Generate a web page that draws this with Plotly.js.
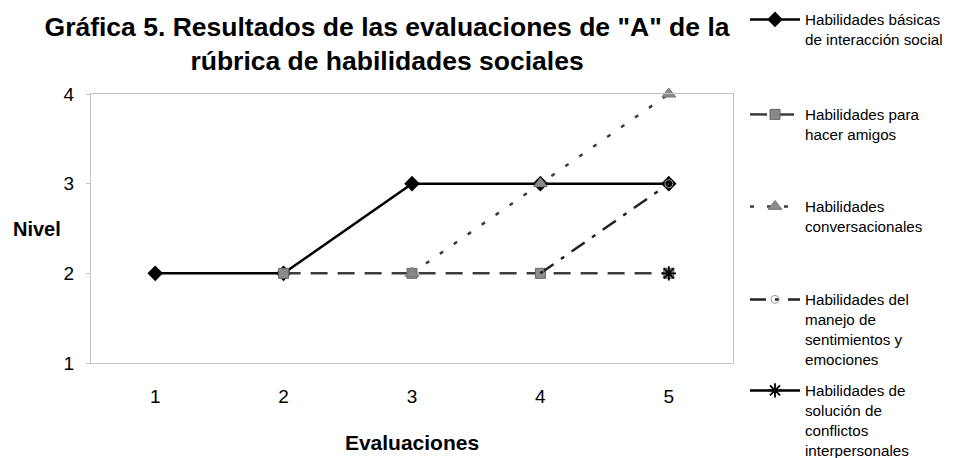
<!DOCTYPE html>
<html>
<head>
<meta charset="utf-8">
<script src="https://cdn.plot.ly/plotly-3.0.1.min.js"></script>
<style>html,body{margin:0;padding:0;background:#fff;}#chart{width:954px;height:458px;}</style>
</head>
<body>
<div id="chart"></div>
<script>
// Data
var evaluaciones = [1, 2, 3, 4, 5];
var basicas = [2, 2, 3, 3, 3];
var hacerAmigos = [null, 2, 2, 2, 2];
var conversacionales = [null, null, 2, 3, 4];
var sentimientos = [null, null, null, 2, 3];
var conflictos = [null, null, null, null, 2];
var seriesNames = [
  'Habilidades básicas<br>de interacción social',
  'Habilidades para<br>hacer amigos',
  'Habilidades<br>conversacionales',
  'Habilidades del<br>manejo de<br>sentimientos y<br>emociones',
  'Habilidades de<br>solución de<br>conflictos<br>interpersonales'
];
var yTicks = [1, 2, 3, 4];

var W = 954, H = 458;
var legendTops = [3, 98, 190, 283, 374];

var traces = [
  {x: evaluaciones, y: basicas, name: seriesNames[0], mode: 'lines+markers',
   line: {color: '#000', width: 2.5},
   marker: {symbol: 'diamond', size: 12, color: '#000'}},
  {x: evaluaciones, y: hacerAmigos, name: seriesNames[1], mode: 'lines+markers',
   line: {color: '#3c3c3c', width: 2.5, dash: '17px,10px'},
   marker: {symbol: 'square', size: 10, color: '#8a8a8a', line: {color: '#666', width: 1}}},
  {x: evaluaciones, y: conversacionales, name: seriesNames[2], mode: 'lines+markers',
   line: {color: '#3c3c3c', width: 2.5, dash: '4px,13px'},
   marker: {symbol: 'triangle-up', size: 12, color: '#8a8a8a', line: {color: '#777', width: 1}}},
  {x: evaluaciones, y: sentimientos, name: seriesNames[3], mode: 'lines+markers',
   line: {color: '#222', width: 2.5, dash: '16px,9px,4px,9px'},
   marker: {symbol: 'circle-open', size: 8, color: '#999', line: {width: 1}}},
  {x: evaluaciones, y: conflictos, name: seriesNames[4], mode: 'lines+markers',
   line: {color: '#000', width: 2.5},
   marker: {symbol: 'asterisk-open', size: 12, color: '#000', line: {width: 1.8, color: '#000'}}}
];
traces.forEach(function(t, i){
  t.legend = i === 0 ? 'legend' : 'legend' + (i + 1);
  t.cliponaxis = false;
});

function mkLegend(i){
  return {x: 745 / W, xref: 'container', y: 1 - legendTops[i] / H, yref: 'container',
          xanchor: 'left', yanchor: 'top', valign: 'top',
          font: {family: 'Arial, Liberation Sans, sans-serif', size: 15.2, color: '#000'},
          bgcolor: 'rgba(0,0,0,0)', borderwidth: 0, itemwidth: 50};
}

var layout = {
  width: W, height: H,
  margin: {l: 91, r: 221, t: 94, b: 95, pad: 0},
  paper_bgcolor: '#fff', plot_bgcolor: '#fff',
  font: {family: 'Arial, Liberation Sans, sans-serif', color: '#000'},
  title: {text: 'Gráfica 5. Resultados de las evaluaciones de "A" de la<br>rúbrica de habilidades sociales',
          font: {size: 26.5, color: '#000', weight: 'bold'},
          x: 387 / W, xref: 'container', xanchor: 'center',
          y: 1 - 36 / H, yref: 'container', yanchor: 'top'},
  xaxis: {range: [0.5, 5.5], tickvals: evaluaciones, ticktext: evaluaciones.map(String),
          showgrid: false, zeroline: false, showline: true, mirror: true,
          linecolor: '#c4c4c4', linewidth: 1, ticks: '', ticklabelstandoff: 16,
          tickfont: {size: 19, color: '#000'},
          title: {text: 'Evaluaciones', font: {size: 21, weight: 'bold', color: '#000'}, standoff: 29}},
  yaxis: {range: [1, 4], tickvals: yTicks, ticktext: yTicks.map(String),
          showgrid: false, zeroline: false, showline: true, mirror: true,
          linecolor: '#c4c4c4', linewidth: 1, ticks: 'outside', ticklen: 4, tickcolor: '#c4c4c4',
          ticklabelstandoff: 8, tickfont: {size: 19, color: '#000'}},
  annotations: [{text: 'Nivel', xref: 'paper', yref: 'paper', x: -54 / 642, y: 0.5,
                 xanchor: 'center', yanchor: 'middle', showarrow: false,
                 font: {size: 20, weight: 'bold', color: '#000'}}],
  showlegend: true
};
for (var i = 0; i < 5; i++) layout[i === 0 ? 'legend' : 'legend' + (i + 1)] = mkLegend(i);

Plotly.newPlot('chart', traces, layout, {displayModeBar: false, staticPlot: true});
</script>
</body>
</html>
